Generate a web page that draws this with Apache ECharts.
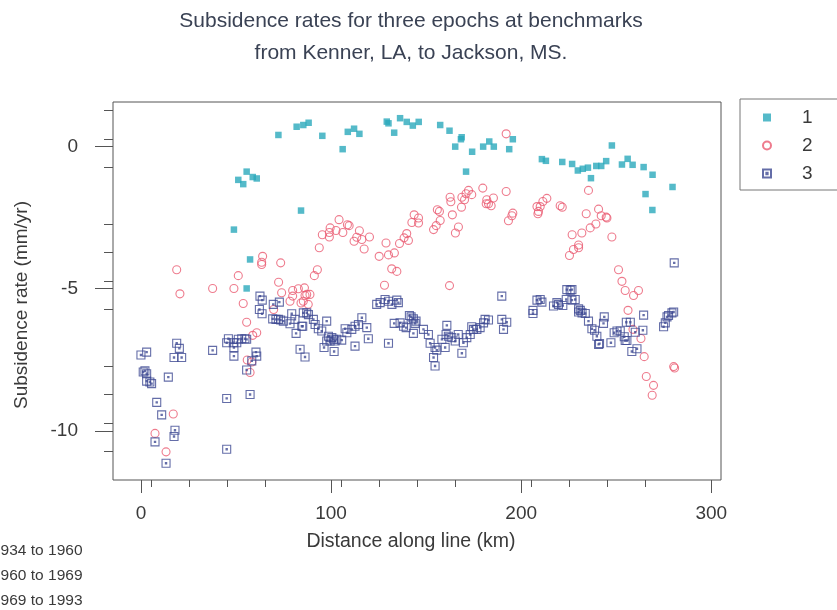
<!DOCTYPE html>
<html><head><meta charset="utf-8">
<script src="https://cdn.jsdelivr.net/npm/echarts@6/dist/echarts.min.js"></script>
<style>html,body{margin:0;padding:0;background:#fff;overflow:hidden}#c{width:837px;height:610px}</style>
</head><body><div id="c"></div>
<script>
const titleLines = ['Subsidence rates for three epochs at benchmarks', 'from Kenner, LA, to Jackson, MS.'];
const seriesNames = ['1', '2', '3'];
const epochLabels = ['1934 to 1960', '1960 to 1969', '1969 to 1993'];
const xName = 'Distance along line (km)';
const yName = 'Subsidence rate (mm/yr)';
const xTicks = [0, 100, 200, 300];
const yTicks = [-10, -5, 0];

const epoch1 = [
[48.9,-2.92],[51.2,-1.17],[53.8,-1.32],[55.6,-0.88],[58.8,-1.07],[60.9,-1.12],[57.4,-3.97],[55.6,-4.99],
[72.3,0.41],[81.9,0.70],[84.2,-2.25],[85.4,0.76],[88.2,0.84],[95.4,0.38],[106.1,-0.09],[108.8,0.52],[112.1,0.63],[114.9,0.45],
[129.3,0.88],[130.2,0.82],[133.2,0.49],[136.3,1.0],[139.8,0.87],[143,0.74],[146.1,0.87],[157.4,0.76],[162.3,0.56],[165.3,0],[168.3,0.26],[168.7,0.33],[171,-0.88],[174.2,-0.18],[180,0],[183.2,0.18],[185.6,0],
[193.7,-0.09],[195.6,0.26],[210.9,-0.44],[213,-0.5],[221.6,-0.54],[226.8,-0.61],[229.8,-0.84],[232.4,-0.78],[235.1,-0.74],[236.7,-1.11],[239.5,-0.68],[242.1,-0.68],[244.7,-0.51],[247.7,0.04],[253,-0.63],[256,-0.43],[258.6,-0.64],[264.4,-0.72],[265.4,-1.67],[269,-2.23],[269.1,-0.99],[279.6,-1.42]
];

const epoch2 = [
[7.4,-10.09],[13.2,-10.74],[17,-9.41],[18.8,-4.33],[20.5,-5.18],[37.7,-4.99],[48.9,-4.99],[51.2,-4.54],[53.8,-5.52],[55.6,-6.18],[55.9,-7.51],[57.4,-7.95],[58.3,-7.58],[58.8,-6.64],[60.9,-6.55],
[63.5,-4.07],[63.5,-4.15],[64,-3.86],[69.8,-5.73],[72.4,-4.77],[73.5,-4.09],[74,-5.14],[78.4,-5.44],[79.8,-5.06],[79.8,-5.26],[82.8,-5.0],[84.2,-5.5],[85.4,-5.44],[86,-4.97],[86.3,-5.24],[87.2,-5.2],[88,-5.55],[88.9,-5.2],
[91.2,-4.54],[92.8,-4.33],[93.8,-3.56],[95.4,-3.1],[99.1,-3.02],[99.1,-3.18],[99.5,-2.86],[102.6,-2.95],[104.2,-2.57],[106.2,-3.02],[108.6,-2.75],[109.5,-2.78],[112.1,-3.33],[113.5,-3.19],[114.9,-2.96],[116.2,-3.27],[117.4,-3.6],[120.2,-3.18],
[125.3,-3.86],[128.1,-4.88],[128.9,-3.39],[130.2,-3.81],[131.9,-4.3],[133.3,-3.74],[134.6,-4.39],[136,-3.41],[138.4,-3.21],[139.8,-3.06],[140.7,-3.3],[142.5,-2.67],[143.7,-2.4],[146,-2.51],[146,-2.69],
[153.9,-2.92],[155.3,-2.78],[155.9,-2.22],[157,-2.28],[157.4,-2.6],[162.3,-4.89],[162.6,-1.78],[163,-1.94],[163.8,-2.4],[165.4,-3.04],[167,-2.83],[168.6,-2.13],[168.8,-1.78],[170.2,-1.87],[171,-1.66],[172.3,-1.54],[174,-1.69],[179.8,-1.46],[181.6,-2.01],[181.9,-1.87],[182.8,-2.01],[184.2,-2.08],[185.4,-1.81],
[192.1,0.45],[192.1,-1.58],[193.3,-2.61],[195.1,-2.43],[195.6,-2.34],[208.3,-2.11],[208.8,-2.36],[209.1,-2.28],[210,-2.11],[211.4,-1.93],[213.5,-1.82],[220.5,-2.08],[221.6,-2.13],
[225.4,-3.83],[226.8,-3.1],[227.5,-3.62],[230.2,-3.46],[230.2,-3.56],[231.9,-3.04],[234.2,-2.36],[235.4,-1.54],[236.3,-2.86],[239.3,-2.72],[240.7,-2.2],[242.1,-2.43],[244.7,-2.48],[245.1,-2.51],[247.7,-3.18],
[251.2,-4.33],[253,-4.74],[254.7,-5.06],[256.2,-5.76],[258.8,-6.43],[259.1,-5.24],[261.7,-5.06],[263,-6.75],[264.7,-7.39],[265.8,-8.09],[268.9,-8.75],[269.6,-8.4],[280.2,-7.74],[280.7,-7.79]
];

const epoch3 = [
[0,-7.33],[1.2,-7.93],[2.1,-7.89],[3,-7.23],[3,-7.99],[3,-8.25],[4.7,-8.28],[5.6,-8.34],[7.4,-10.39],[8.3,-9.0],[10.9,-9.44],[13.2,-11.14],[14.4,-8.11],[17.4,-7.42],[17.4,-10.2],[17.9,-9.98],[18.8,-6.92],[20.2,-7.1],[21.4,-7.42],
[37.7,-7.17],[45.1,-8.86],[45.1,-10.65],[45.1,-6.9],[46,-6.76],[48.6,-6.9],[48.9,-7.07],[48.9,-7.37],[50.4,-6.9],[51.2,-6.78],[53,-6.76],[54.7,-6.76],[55.6,-6.78],[55.6,-7.86],[57.4,-8.72],[58.3,-7.54],[60.5,-7.23],[60.9,-7.37],
[62.3,-5.73],[62.6,-5.26],[63.7,-5.88],[63.8,-5.4],[69.3,-6.06],[69.6,-5.55],[71,-6.08],[72.3,-6.08],[72.8,-5.47],[73.5,-6.1],[74.9,-6.14],[78.4,-6.23],[79.3,-5.88],[81,-6.08],[81.6,-6.57],[83.7,-7.13],[84.6,-6.32],[85.1,-6.32],[85.4,-5.85],[86.3,-7.4],[87.2,-5.85],[88.1,-5.91],
[90.7,-6.08],[91.6,-6.26],[93.3,-6.41],[95.1,-6.49],[96.3,-7.07],[97.7,-6.14],[97.7,-6.84],[98.6,-6.67],[99.5,-6.84],[100.4,-6.72],[101.3,-6.78],[101.6,-7.21],[102.1,-6.84],[103,-6.78],[105.6,-6.81],[107.4,-6.41],[108.3,-6.55],[110.9,-6.43],[112.6,-6.32],[112.6,-7.02],[114.4,-6.26],[116.2,-6.02],[118.8,-6.37],[119.6,-6.76],
[124,-5.55],[125.8,-5.49],[128.4,-5.38],[130.2,-5.44],[130.2,-6.92],[132,-5.55],[133.2,-6.22],[134.6,-5.4],[135.4,-5.49],[136.3,-6.2],[138.1,-6.32],[139.5,-6.37],[141.2,-5.94],[142.1,-5.99],[143.3,-6.06],[143.3,-6.57],[144.2,-6.22],[144.7,-6.14],[148.6,-6.43],[151.2,-6.61],
[152.1,-6.92],[153.9,-7.42],[154.7,-7.07],[154.7,-7.72],[155.6,-7.16],[158.3,-6.78],[160,-7.07],[160.5,-6.61],[160.9,-6.29],[161.7,-6.67],[163.5,-6.72],[165.3,-6.84],[166.9,-6.61],[168.8,-7.27],[169.6,-6.9],[171.4,-6.72],[173.2,-6.61],[174,-6.34],[174.9,-6.43],[176.7,-6.43],[178.4,-6.37],[180.2,-6.2],[181,-6.08],[182.8,-6.1],
[189.8,-5.26],[189.8,-6.08],[190.7,-6.43],[192.4,-6.18],[206.2,-5.76],[206.2,-5.87],[208.3,-5.4],[210,-5.38],[210.9,-5.47],[217,-5.61],[218.8,-5.49],[219.6,-5.55],[221.9,-5.59],[223.7,-5.38],[224,-5.03],[225.8,-5.05],[226.7,-5.03],[226.7,-5.4],[228.4,-5.38],
[230.2,-5.71],[230.2,-5.82],[231.1,-5.76],[232,-5.85],[233.7,-5.87],[235.4,-6.14],[237.2,-6.41],[238.6,-6.46],[239.8,-6.67],[240.7,-6.96],[241.2,-6.93],[243.3,-6.22],[243.7,-5.99],[247.2,-6.9],[248.9,-6.55],[250.4,-6.49],[252.1,-6.49],
[254.2,-6.69],[254.7,-6.82],[255.3,-6.18],[255.6,-6.82],[257.4,-6.18],[258.2,-7.21],[260,-6.53],[260.9,-7.11],[264,-6.46],[264.4,-5.93],[274.9,-6.34],[275.8,-6.2],[276.7,-5.99],[277.5,-5.94],[279.3,-5.85],[280.2,-5.82],[280.5,-4.09]
];

const chart = echarts.init(document.getElementById('c'), null, {renderer: 'canvas'});
const FONT = 'Liberation Sans, Arial, sans-serif';
const TXT = '#3a3a3a';
const teal = '#2aa9bb', red = '#ea5a70', navy = '#3d4892';
const sqDot = 'path://M0,0H10V10H0Z M4.2,4.2H5.8V5.8H4.2Z';

chart.setOption({
  animation: false,
  backgroundColor: '#fff',
  title: {
    text: titleLines.join('\n'), left: 406, top: 0, textAlign: 'center',
    textStyle: {fontFamily: FONT, fontSize: 21, fontWeight: 'normal', color: '#3a4254', lineHeight: 32}
  },
  grid: {left: 113, top: 102, width: 608, height: 378, show: true, borderColor: '#555', borderWidth: 1, backgroundColor: 'transparent'},
  legend: {
    orient: 'vertical', left: 740, top: 99, data: seriesNames,
    itemWidth: 8, itemHeight: 8, itemGap: 9,
    padding: [9, 40, 7, 22],
    borderColor: '#777', borderWidth: 1,
    textStyle: {fontFamily: FONT, fontSize: 19, color: TXT, padding: [0, 0, 0, 26]}
  },
  xAxis: {
    type: 'value', min: -14.7, max: 305.1, interval: 100,
    name: xName, nameLocation: 'middle', nameGap: 52,
    nameTextStyle: {fontFamily: FONT, fontSize: 19.5, color: TXT, padding: [0, 12, 0, 0]},
    axisLine: {show: false, onZero: false},
    axisTick: {show: true, length: 13, lineStyle: {color: '#555'}, customValues: xTicks},
    minorTick: {show: true, splitNumber: 5, length: 7, lineStyle: {color: '#555'}},
    axisLabel: {fontFamily: FONT, fontSize: 19, color: TXT, margin: 24, customValues: xTicks},
    splitLine: {show: false}
  },
  yAxis: {
    type: 'value', min: -11.73, max: 1.57, interval: 5,
    name: yName, nameLocation: 'middle', nameGap: 82, nameRotate: 90,
    nameTextStyle: {fontFamily: FONT, fontSize: 19, color: TXT, padding: [0, 28, 0, 0]},
    axisLine: {show: false, onZero: false},
    axisTick: {show: true, length: 18, lineStyle: {color: '#555'}, customValues: yTicks},
    minorTick: {show: true, splitNumber: 5, length: 9, lineStyle: {color: '#555'}},
    axisLabel: {fontFamily: FONT, fontSize: 19, color: TXT, margin: 35, customValues: yTicks},
    splitLine: {show: false}
  },
  graphic: epochLabels.map((t, i) => ({
    type: 'text', left: -8, top: 543 + i * 25,
    style: {text: t, fontFamily: FONT, fontSize: 15.5, fill: TXT}
  })),
  series: [
    {name: seriesNames[0], type: 'scatter', data: epoch1, symbol: 'rect', symbolSize: 6.5,
     itemStyle: {color: teal}},
    {name: seriesNames[1], type: 'scatter', data: epoch2, symbol: 'circle', symbolSize: 8,
     itemStyle: {color: 'rgba(255,255,255,0)', borderColor: red, borderWidth: 1.1}},
    {name: seriesNames[2], type: 'scatter', data: epoch3, symbol: sqDot, symbolSize: 8,
     itemStyle: {color: 'rgba(255,255,255,0)', borderColor: navy, borderWidth: 1.1}}
  ]
});
</script></body></html>
